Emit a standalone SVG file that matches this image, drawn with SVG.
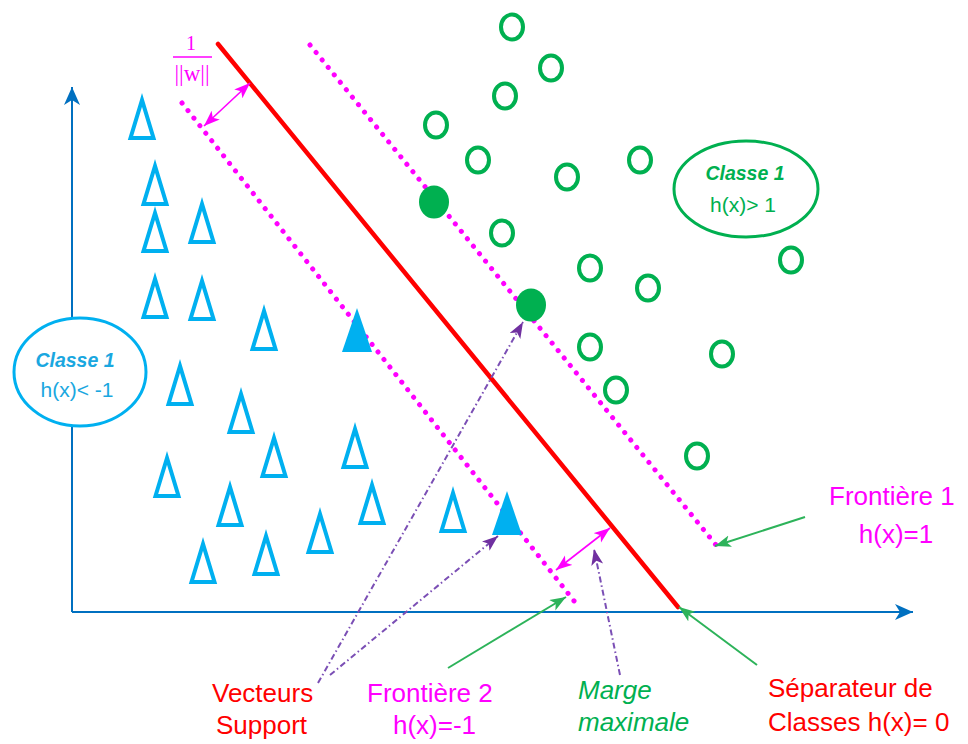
<svg xmlns="http://www.w3.org/2000/svg" width="968" height="744" viewBox="0 0 968 744">
  <style>
    .axis { stroke: #0070C0; stroke-width: 2; fill: none; }
    .tri { fill: none; stroke: #00B0F0; stroke-width: 4; stroke-linejoin: miter; }
    .trif { fill: #00B0F0; }
    .circ { fill: none; stroke: #00B050; stroke-width: 4; }
    .circf { fill: #00B050; }
    .sep { stroke: #FF0000; stroke-width: 4.5; stroke-linecap: round; }
    .bound { stroke: #FF00FF; stroke-width: 5; stroke-linecap: round; stroke-dasharray: 0.1 9.5; fill: none; }
    .margin { stroke: #FF00FF; stroke-width: 1.6; fill: none; }
    .sv { stroke: #7B4FB5; stroke-width: 2; stroke-dasharray: 6 3 1.5 3; fill: none; }
    .ptr { stroke: #2DB35A; stroke-width: 2; fill: none; }
    .lbl { font-family: "Liberation Sans", Arial, sans-serif; font-size: 26px; }
    .cls { font-family: "Liberation Sans", Arial, sans-serif; }
  </style>
  <defs>
    <marker id="axHead" markerUnits="userSpaceOnUse" markerWidth="20" markerHeight="18" refX="18" refY="8" orient="auto" viewBox="0 0 20 18">
      <path d="M0,0 L18,8 L0,16 L5,8 Z" fill="#0070C0"/>
    </marker>
    <marker id="magHead" markerUnits="userSpaceOnUse" markerWidth="18" markerHeight="14" refX="16" refY="6" orient="auto-start-reverse" viewBox="0 0 18 14">
      <path d="M0,0 L16,6 L0,12 L4,6 Z" fill="#FF00FF"/>
    </marker>
    <marker id="purHead" markerUnits="userSpaceOnUse" markerWidth="18" markerHeight="14" refX="16" refY="6" orient="auto" viewBox="0 0 18 14">
      <path d="M0,0 L16,6 L0,12 L4,6 Z" fill="#7030A0"/>
    </marker>
    <marker id="grnHead" markerUnits="userSpaceOnUse" markerWidth="18" markerHeight="14" refX="16" refY="6" orient="auto" viewBox="0 0 18 14">
      <path d="M0,0 L16,6 L0,12 L4,6 Z" fill="#2DB35A"/>
    </marker>
    <path id="triO" d="M0,-19 L-11.5,19 L11.5,19 Z"/>
    <path id="triF" d="M0,-22 L-15,22 L15,22 Z"/>
  </defs>

  <rect width="968" height="744" fill="#FFFFFF"/>

  <!-- axes -->
  <g id="axes">
    <line class="axis" x1="72" y1="612" x2="72" y2="87" marker-end="url(#axHead)"/>
    <line class="axis" x1="72" y1="612" x2="913" y2="612" marker-end="url(#axHead)"/>
  </g>

  <!-- class -1 samples (triangles) -->
  <g id="class-neg">
    <use href="#triO" class="tri" x="142" y="119"/>
    <use href="#triO" class="tri" x="155" y="185"/>
    <use href="#triO" class="tri" x="155" y="232"/>
    <use href="#triO" class="tri" x="202" y="223"/>
    <use href="#triO" class="tri" x="155" y="298"/>
    <use href="#triO" class="tri" x="202" y="300"/>
    <use href="#triO" class="tri" x="264" y="330"/>
    <use href="#triO" class="tri" x="180" y="385"/>
    <use href="#triO" class="tri" x="241" y="413"/>
    <use href="#triO" class="tri" x="274" y="457"/>
    <use href="#triO" class="tri" x="355" y="448"/>
    <use href="#triO" class="tri" x="167" y="477"/>
    <use href="#triO" class="tri" x="230" y="506"/>
    <use href="#triO" class="tri" x="372" y="504"/>
    <use href="#triO" class="tri" x="320" y="533"/>
    <use href="#triO" class="tri" x="266" y="555"/>
    <use href="#triO" class="tri" x="203" y="563"/>
    <use href="#triO" class="tri" x="453" y="512"/>
  </g>

  <!-- class +1 samples (circles) -->
  <g id="class-pos">
    <ellipse class="circ" cx="512" cy="27" rx="11" ry="12.5"/>
    <ellipse class="circ" cx="551" cy="68" rx="11" ry="12.5"/>
    <ellipse class="circ" cx="505" cy="96" rx="11" ry="12.5"/>
    <ellipse class="circ" cx="436" cy="125" rx="11" ry="12.5"/>
    <ellipse class="circ" cx="478" cy="160" rx="11" ry="12.5"/>
    <ellipse class="circ" cx="567" cy="177" rx="11" ry="12.5"/>
    <ellipse class="circ" cx="640" cy="160" rx="11" ry="12.5"/>
    <ellipse class="circ" cx="502" cy="233" rx="11" ry="12.5"/>
    <ellipse class="circ" cx="590" cy="268" rx="11" ry="12.5"/>
    <ellipse class="circ" cx="648" cy="288" rx="11" ry="12.5"/>
    <ellipse class="circ" cx="791" cy="260" rx="11" ry="12.5"/>
    <ellipse class="circ" cx="590" cy="347" rx="11" ry="12.5"/>
    <ellipse class="circ" cx="722" cy="354" rx="11" ry="12.5"/>
    <ellipse class="circ" cx="616" cy="390" rx="11" ry="12.5"/>
    <ellipse class="circ" cx="697" cy="456" rx="11" ry="12.5"/>
  </g>

  <!-- margin boundaries and separating hyperplane -->
  <g id="hyperplanes">
    <line id="frontiere-2" class="bound" x1="182" y1="103" x2="578" y2="606"/>
    <line id="frontiere-1" class="bound" x1="310" y1="45" x2="716" y2="545"/>
    <line id="separateur" class="sep" x1="218" y1="44" x2="678" y2="607"/>
  </g>

  <!-- support vectors -->
  <g id="support-vectors">
    <use href="#triF" class="trif" x="357" y="330"/>
    <use href="#triF" class="trif" x="507" y="513"/>
    <ellipse class="circf" cx="434" cy="202" rx="15" ry="16.5"/>
    <ellipse class="circf" cx="531" cy="305" rx="15" ry="16.5"/>
  </g>

  <!-- class regions -->
  <g id="region-neg">
    <ellipse cx="80" cy="372" rx="66" ry="54" fill="#FFFFFF" stroke="#00B0F0" stroke-width="3"/>
    <text class="cls" x="75" y="367" text-anchor="middle" font-size="19.5" font-weight="bold" font-style="italic" fill="#1AA7E0">Classe 1</text>
    <text class="cls" x="77" y="397" text-anchor="middle" font-size="21" fill="#1AA7E0">h(x)&lt; -1</text>
  </g>
  <g id="region-pos">
    <ellipse cx="746" cy="189" rx="72" ry="48" fill="#FFFFFF" stroke="#00B050" stroke-width="3"/>
    <text class="cls" x="745" y="180" text-anchor="middle" font-size="19.5" font-weight="bold" font-style="italic" fill="#00B050">Classe 1</text>
    <text class="cls" x="743" y="212" text-anchor="middle" font-size="21" fill="#00B050">h(x)&gt; 1</text>
  </g>

  <!-- margin width 1/||w|| -->
  <g id="margin-label">
    <text x="191" y="50" text-anchor="middle" font-family="Liberation Serif, serif" font-size="20" fill="#FF00FF">1</text>
    <line x1="173" y1="57" x2="212" y2="57" stroke="#FF00FF" stroke-width="1.5"/>
    <text x="192" y="81" text-anchor="middle" font-family="Liberation Serif, serif" font-size="23" fill="#FF00FF">||w||</text>
  </g>

  <!-- connectors -->
  <g id="connectors">
    <line class="margin" x1="204" y1="126" x2="250" y2="83" marker-start="url(#magHead)" marker-end="url(#magHead)"/>
    <line class="margin" x1="556" y1="570" x2="610" y2="528" marker-start="url(#magHead)" marker-end="url(#magHead)"/>
    <line class="sv" x1="318" y1="683" x2="523" y2="322" marker-end="url(#purHead)"/>
    <line class="sv" x1="330" y1="675" x2="498" y2="536" marker-end="url(#purHead)"/>
    <line class="sv" x1="620" y1="675" x2="594" y2="549" marker-end="url(#purHead)"/>
    <line class="ptr" x1="448" y1="668" x2="566" y2="597" marker-end="url(#grnHead)"/>
    <line class="ptr" x1="757" y1="665" x2="679" y2="607" marker-end="url(#grnHead)"/>
    <line class="ptr" x1="805" y1="517" x2="715" y2="546" marker-end="url(#grnHead)"/>
  </g>

  <!-- labels -->
  <g id="label-frontiere-1">
    <text class="lbl" x="829" y="505" fill="#FF00FF">Frontière 1</text>
    <text class="lbl" x="896" y="543" text-anchor="middle" fill="#FF00FF">h(x)=1</text>
  </g>
  <g id="label-vecteurs">
    <text class="lbl" x="212" y="702" fill="#FF0000">Vecteurs</text>
    <text class="lbl" x="216" y="734" fill="#FF0000">Support</text>
  </g>
  <g id="label-frontiere-2">
    <text class="lbl" x="367" y="702" fill="#FF00FF">Frontière 2</text>
    <text class="lbl" x="393" y="734" fill="#FF00FF">h(x)=-1</text>
  </g>
  <g id="label-marge">
    <text class="lbl" x="578" y="699" font-style="italic" fill="#00B050">Marge</text>
    <text class="lbl" x="578" y="731" font-style="italic" fill="#00B050">maximale</text>
  </g>
  <g id="label-separateur">
    <text class="lbl" x="768" y="697" fill="#FF0000">Séparateur de</text>
    <text class="lbl" x="768" y="731" fill="#FF0000">Classes h(x)= 0</text>
  </g>
</svg>
